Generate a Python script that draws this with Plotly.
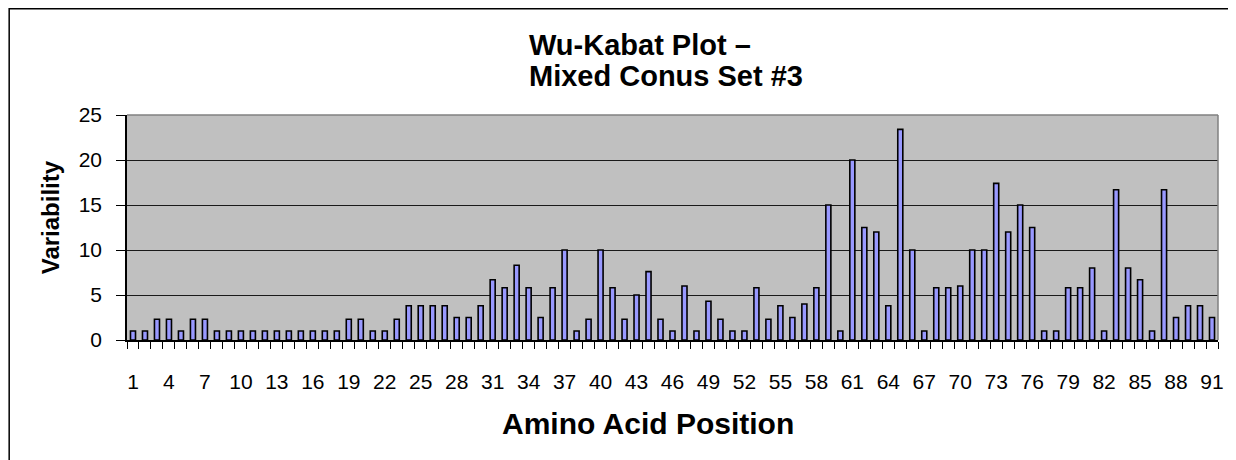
import plotly.graph_objects as go

positions = list(range(1, 92))
variability = [
    1, 1, 2.3, 2.3, 1, 2.3, 2.3, 1, 1, 1,
    1, 1, 1, 1, 1, 1, 1, 1, 2.3, 2.3,
    1, 1, 2.3, 3.8, 3.8, 3.8, 3.8, 2.5, 2.5, 3.8,
    6.7, 5.8, 8.3, 5.8, 2.5, 5.8, 10, 1, 2.3, 10,
    5.8, 2.3, 5, 7.6, 2.3, 1, 6, 1, 4.3, 2.3,
    1, 1, 5.8, 2.3, 3.8, 2.5, 4, 5.8, 15, 1,
    20, 12.5, 12, 3.8, 23.4, 10, 1, 5.8, 5.8, 6,
    10, 10, 17.4, 12, 15, 12.5, 1, 1, 5.8, 5.8,
    8, 1, 16.7, 8, 6.7, 1, 16.7, 2.5, 3.8, 3.8, 2.5,
]
x_tick_labels = [str(p) for p in positions[::3]]
y_ticks = [0, 5, 10, 15, 20, 25]

title_line1 = "Wu-Kabat Plot –"
title_line2 = "Mixed Conus Set #3"
x_title = "Amino Acid Position"
y_title = "Variability"

FONT = "Liberation Sans, Arial, sans-serif"

# page body has an 8px margin, so the figure is 8px smaller and all
# positions are expressed relative to the figure origin
W, H = 1228, 452
L, R, T, B = 119, 14, 107, 120
PW, PH = W - L - R, H - T - B


def px_x(fx):
    return (fx - L) / PW


def px_y(fy):
    return (H - B - fy) / PH


fig = go.Figure()
fig.add_trace(go.Bar(
    x=positions, y=variability, width=0.42,
    marker=dict(color="#9999FF", line=dict(color="#000000", width=1.6)),
    showlegend=False,
))

fig.update_layout(
    width=W, height=H,
    margin=dict(l=L, r=R, t=T, b=B),
    paper_bgcolor="white", plot_bgcolor="#C0C0C0",
    font=dict(family=FONT, color="black", size=21),
)
fig.update_xaxes(
    range=[0.5, 91.5],
    tickmode="array", tickvals=positions[::3], ticktext=x_tick_labels,
    ticks="", ticklabelstandoff=22,
    minor=dict(tickmode="linear", tick0=0.5, dtick=1, ticks="outside",
               ticklen=7, tickcolor="black", tickwidth=1, showgrid=False),
    showline=True, linecolor="black", linewidth=1.5,
    showgrid=False, zeroline=False,
    tickfont=dict(size=21),
)
fig.update_yaxes(
    range=[0, 25], tickmode="array", tickvals=y_ticks,
    ticks="outside", ticklen=9, tickcolor="black", ticklabelstandoff=10,
    showline=True, linecolor="black", linewidth=1.5,
    showgrid=True, gridcolor="#1a1a1a", gridwidth=1, zeroline=False,
    tickfont=dict(size=21),
)

# grey plot-area border on top and right
fig.add_shape(type="line", xref="x domain", yref="y domain", x0=0, x1=1, y0=1, y1=1,
              line=dict(color="#808080", width=1.5))
fig.add_shape(type="line", xref="x domain", yref="y domain", x0=1, x1=1, y0=0, y1=1,
              line=dict(color="#808080", width=1.5))
# outer chart frame (left and top edges visible)
fig.add_shape(type="rect", xref="paper", yref="paper",
              x0=px_x(0.75), x1=px_x(W + 20), y0=px_y(H + 20), y1=px_y(0.75),
              line=dict(color="black", width=1.5), layer="above")

# chart title (two left-aligned lines)
fig.add_annotation(text="<b>" + title_line1 + "</b>", xref="paper", yref="paper",
                   x=px_x(520), y=px_y(55), xanchor="left", yanchor="bottom",
                   showarrow=False, font=dict(size=29, family=FONT))
fig.add_annotation(text="<b>" + title_line2 + "</b>", xref="paper", yref="paper",
                   x=px_x(520), y=px_y(86), xanchor="left", yanchor="bottom",
                   showarrow=False, font=dict(size=29, family=FONT))

# axis titles
fig.add_annotation(text="<b>" + x_title + "</b>", xref="paper", yref="paper",
                   x=px_x(642), y=px_y(415), xanchor="center", yanchor="middle",
                   showarrow=False, font=dict(size=30, family=FONT))
fig.add_annotation(text="<b>" + y_title + "</b>", xref="paper", yref="paper",
                   x=px_x(42), y=px_y(209), xanchor="center", yanchor="middle",
                   textangle=-90, showarrow=False, font=dict(size=24, family=FONT))

fig.write_html("out.html")
